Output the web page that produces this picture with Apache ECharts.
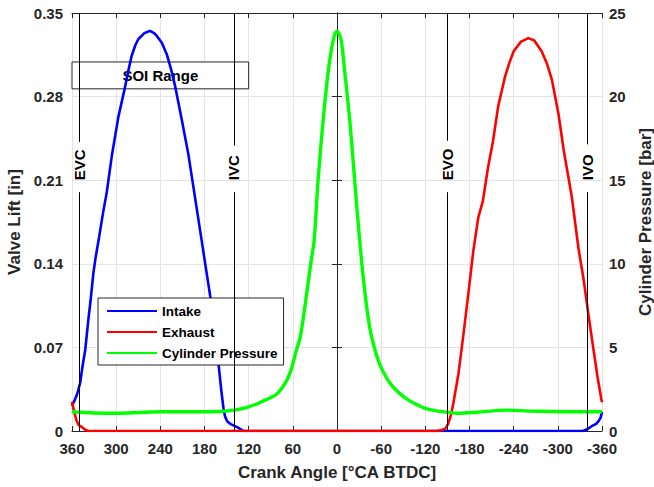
<!DOCTYPE html>
<html><head><meta charset="utf-8">
<script src="https://cdn.jsdelivr.net/npm/echarts@6/dist/echarts.min.js"></script>
<style>html,body{margin:0;padding:0;background:#fff}#c{width:654px;height:487px}</style>
</head><body><div id="c"></div>
<script>
// ---- data (crank angle in °CA BTDC) ----
const intakeAngle = [360,357,353,349,346,342,338,335,331,328,323,318,313,306,297,289,283,279,274,270,262,254,248,245,238,231,225,220,211,202,193,184,178,172,163,157,154,152,149,145,140,135,130,127,-334,-340,-346,-352,-355,-358,-360];
const intakeLift  = [0.021,0.025,0.031,0.040,0.053,0.068,0.092,0.108,0.132,0.145,0.163,0.182,0.199,0.230,0.263,0.285,0.303,0.314,0.323,0.328,0.333,0.335,0.333,0.331,0.325,0.315,0.302,0.289,0.261,0.232,0.196,0.160,0.136,0.112,0.068,0.033,0.018,0.012,0.008,0.006,0.0045,0.003,0.0012,0,0,0.0015,0.004,0.006,0.008,0.011,0.016];

const exhaustAngle = [360,357,354,351,347,342,338,-135,-141,-147,-151,-155,-158,-165,-172,-179,-185,-192,-198,-205,-212,-219,-228,-234,-240,-250,-260,-268,-278,-285,-292,-301,-308,-319,-328,-335,-341,-348,-354,-359,-360];
const exhaustLift  = [0.0245,0.016,0.009,0.005,0.0035,0.001,0,0,0.0006,0.0018,0.006,0.014,0.023,0.048,0.082,0.118,0.150,0.179,0.192,0.220,0.243,0.272,0.296,0.308,0.318,0.326,0.329,0.327,0.318,0.308,0.294,0.265,0.235,0.196,0.153,0.127,0.100,0.070,0.045,0.027,0.024];

const pressureAngle = [360,330,300,270,240,210,180,160,150,140,130,120,110,100,90,82,75,68,62,56,50,45,40,35,31,25.7,19,12,8,5,2.5,0,-2.5,-6,-10.5,-17.3,-24,-30.8,-37.6,-44.4,-50,-58,-67,-75,-85,-97,-110,-120,-135,-150,-165,-190,-230,-260,-290,-320,-360];
const pressureBar   = [1.15,1.08,1.06,1.10,1.15,1.15,1.15,1.17,1.20,1.25,1.33,1.45,1.60,1.80,2.00,2.20,2.55,3.05,3.70,4.70,5.60,7.00,8.60,10.2,11.4,15.0,18.5,21.5,22.7,23.4,23.8,23.9,23.8,23.3,21.5,18.6,15.0,11.4,8.4,6.2,5.1,4.0,3.2,2.7,2.25,1.85,1.55,1.35,1.20,1.12,1.06,1.12,1.25,1.20,1.17,1.15,1.15];

const seriesNames = ['Intake','Exhaust','Cylinder Pressure'];
const eventNames  = ['EVC','IVC','EVO','IVO'];
const eventAngles = [350, 140, -150, -340];
const soiLabel = 'SOI Range';
const soiAngles = [360, 120];
const soiLifts  = [0.2865, 0.309];

const xRange = [-360, 360], xStep = 60;
const liftRange = [0, 0.35], liftStep = 0.07;
const presRange = [0, 25], presStep = 5;

// ---- helpers ----
const zip = (a, b) => a.map((v, i) => [v, b[i]]);
const FONT = '"Liberation Sans", Arial, Helvetica, sans-serif';
const AX = '#262626';
const tickFont = {color: AX, fontFamily: FONT, fontWeight: 'bold', fontSize: 15};
const nameFont = {color: AX, fontFamily: FONT, fontWeight: 'bold', fontSize: 17};

const chart = echarts.init(document.getElementById('c'), null, {renderer: 'svg'});

const gapLow = 0.2;
const gapTop = [0.242, 0.239, 0.243, 0.240];
const lineSegs = [];
eventAngles.forEach((a, i) => {
  lineSegs.push([{coord: [a, liftRange[0]]}, {coord: [a, gapLow]}]);
  lineSegs.push([{coord: [a, gapTop[i]]}, {coord: [a, liftRange[1]]}]);
});

const option = {
  animation: false,
  backgroundColor: '#fff',
  grid: {left: 72, right: 52, top: 13, bottom: 56, containLabel: false, outerBoundsMode: 'none'},
  legend: {
    data: seriesNames, orient: 'vertical', left: 98, top: 298,
    itemWidth: 50, itemHeight: 14, itemGap: 7, padding: [6, 6, 5, 8],
    backgroundColor: '#fff', borderColor: AX, borderWidth: 1, borderRadius: 0,
    textStyle: {color: '#000', fontFamily: FONT, fontWeight: 'bold', fontSize: 13.5, padding: [0,0,0,0]},
    itemStyle: {opacity: 0}, selectedMode: false
  },
  xAxis: [{
    type: 'value', min: xRange[0], max: xRange[1], interval: xStep, inverse: true, position: 'bottom',
    name: 'Crank Angle [°CA BTDC]', nameLocation: 'middle', nameGap: 33, nameTextStyle: nameFont,
    axisLine: {show: true, onZero: false, lineStyle: {color: AX, width: 1}},
    axisTick: {show: true, inside: true, length: 5, lineStyle: {color: AX}},
    axisLabel: Object.assign({margin: 10}, tickFont),
    splitLine: {show: true, lineStyle: {color: '#e4e4e4', width: 1}}
  }, {
    type: 'value', min: xRange[0], max: xRange[1], interval: xStep, inverse: true, position: 'top',
    axisLine: {show: true, onZero: false, lineStyle: {color: AX, width: 1}},
    axisTick: {show: true, inside: true, length: 5, lineStyle: {color: AX}},
    axisLabel: {show: false}, splitLine: {show: false}
  }],
  yAxis: [{
    type: 'value', min: liftRange[0], max: liftRange[1], interval: liftStep, position: 'left',
    name: 'Valve Lift [in]', nameLocation: 'middle', nameGap: 45, nameRotate: 90, nameTextStyle: nameFont,
    axisLine: {show: true, lineStyle: {color: AX, width: 1}},
    axisTick: {show: true, inside: true, length: 5, lineStyle: {color: AX}},
    axisLabel: Object.assign({margin: 9, formatter: v => v === 0 ? '0' : v.toFixed(2)}, tickFont),
    splitLine: {show: true, lineStyle: {color: '#e4e4e4', width: 1}}
  }, {
    type: 'value', min: presRange[0], max: presRange[1], interval: presStep, position: 'right',
    name: 'Cylinder Pressure [bar]', nameLocation: 'middle', nameGap: 34, nameRotate: 90, nameTextStyle: nameFont,
    axisLine: {show: true, lineStyle: {color: AX, width: 1}},
    axisTick: {show: true, inside: true, length: 5, lineStyle: {color: AX}},
    axisLabel: Object.assign({margin: 7}, tickFont),
    splitLine: {show: false}
  }],
  series: [{
    name: seriesNames[0], type: 'line', data: zip(intakeAngle, intakeLift), yAxisIndex: 0,
    symbol: 'none', showSymbol: false, z: 2,
    lineStyle: {color: '#0000ff', width: 2.6}, itemStyle: {color: '#0000ff'}
  }, {
    name: seriesNames[1], type: 'line', data: zip(exhaustAngle, exhaustLift), yAxisIndex: 0,
    symbol: 'none', showSymbol: false, z: 2,
    lineStyle: {color: '#ff0000', width: 2.6}, itemStyle: {color: '#ff0000'}
  }, {
    name: seriesNames[2], type: 'line', data: zip(pressureAngle, pressureBar), yAxisIndex: 1,
    symbol: 'none', showSymbol: false, smooth: 0.3, z: 2,
    lineStyle: {color: '#00ff00', width: 3.4}, itemStyle: {color: '#00ff00'}
  }, {
    name: 'events', type: 'line', data: [], yAxisIndex: 0, z: 3, silent: true,
    markLine: {silent: true, symbol: ['none', 'none'], label: {show: false},
      lineStyle: {color: '#000', width: 1, type: 'solid'}, emphasis: {disabled: true}, data: lineSegs}
  }, {
    name: 'soi', type: 'line', data: [], yAxisIndex: 0, z: 6, silent: true,
    markArea: {silent: true, itemStyle: {color: '#fff', borderColor: AX, borderWidth: 1, opacity: 1},
      label: {show: true, position: 'inside', color: '#000', fontFamily: FONT, fontWeight: 'bold', fontSize: 15},
      emphasis: {disabled: true},
      data: [[{name: soiLabel, coord: [soiAngles[0], soiLifts[0]]}, {coord: [soiAngles[1], soiLifts[1]]}]]}
  }]
};
chart.setOption(option);

// event labels, positioned through the chart's own scales
const labelBase = 0.21;
const graphics = eventNames.map((n, i) => {
  const p = chart.convertToPixel({xAxisIndex: 0, yAxisIndex: 0}, [eventAngles[i], labelBase]);
  return {type: 'text', x: p[0], y: p[1], rotation: Math.PI / 2, silent: true, z: 10,
    style: {text: n, fill: '#000', font: 'bold 15px ' + FONT, align: 'left', verticalAlign: 'middle',
      textAlign: 'left', textVerticalAlign: 'middle'}};
});
chart.setOption({graphic: graphics});
</script></body></html>
